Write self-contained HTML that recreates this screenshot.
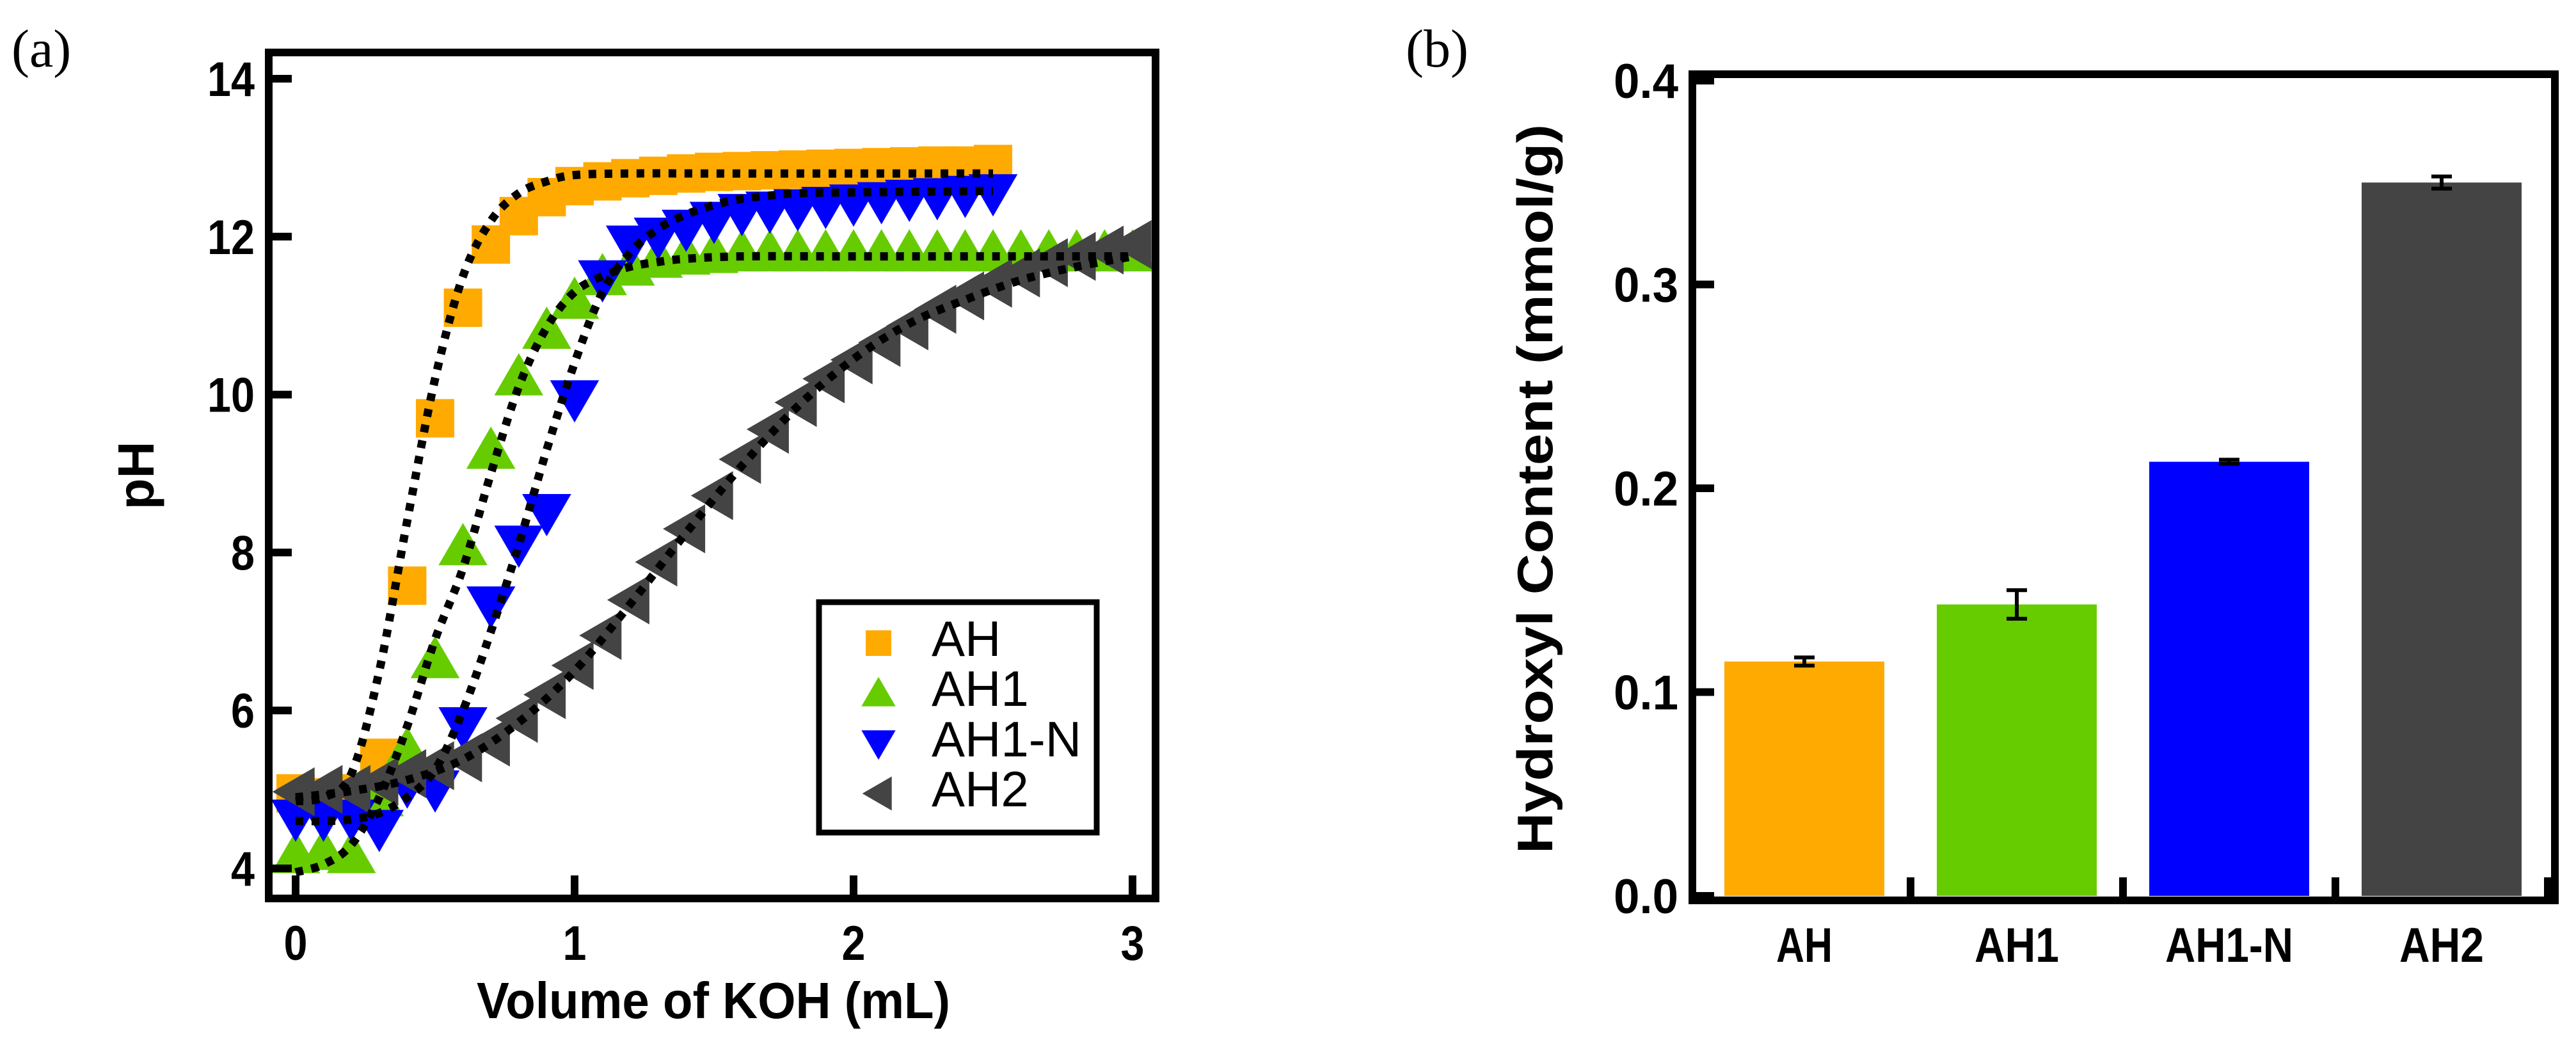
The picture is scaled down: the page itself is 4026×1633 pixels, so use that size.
<!DOCTYPE html>
<html><head><meta charset="utf-8"><style>
html,body{margin:0;padding:0;background:#fff;}
svg{display:block;}
text{font-family:"Liberation Sans",Arial,sans-serif;}
</style></head><body>
<svg id="fig" width="4026" height="1633" viewBox="0 0 4026 1633" xmlns="http://www.w3.org/2000/svg">
<g id="pa"></g>
<g id="pb"></g>
</svg>
<script>
// ---------- Panel (a) data ----------
const ahX = [0,0.1,0.2,0.3,0.4,0.5,0.6,0.7,0.8,0.9,1.0,1.1,1.2,1.3,1.4,1.5,1.6,1.7,1.8,1.9,2.0,2.1,2.2,2.3,2.4,2.5];
const ahY = [4.95,4.9,4.95,5.4,7.58,9.7,11.1,11.9,12.26,12.5,12.64,12.7,12.74,12.77,12.8,12.82,12.83,12.84,12.85,12.86,12.87,12.88,12.89,12.9,12.9,12.92];
const ah1X = [0,0.1,0.2,0.3,0.4,0.5,0.6,0.7,0.8,0.9,1.0,1.1,1.2,1.3,1.4,1.5,1.6,1.7,1.8,1.9,2.0,2.1,2.2,2.3,2.4,2.5,2.6,2.7,2.8,2.9,3.0];
const ah1Y = [4.18,4.22,4.18,4.9,5.5,6.65,8.08,9.3,10.23,10.82,11.2,11.5,11.62,11.72,11.76,11.78,11.8,11.8,11.8,11.8,11.8,11.8,11.8,11.8,11.8,11.8,11.8,11.8,11.8,11.8,11.8];
const ah1nX = [0,0.1,0.2,0.3,0.4,0.5,0.6,0.7,0.8,0.9,1.0,1.1,1.2,1.3,1.4,1.5,1.6,1.7,1.8,1.9,2.0,2.1,2.2,2.3,2.4,2.5];
const ah1nY = [4.63,4.63,4.63,4.5,5.05,5.0,5.8,7.33,8.1,8.5,9.94,11.46,11.9,12.0,12.1,12.2,12.3,12.33,12.36,12.39,12.42,12.45,12.48,12.5,12.53,12.55];
const ah2X = [0,0.1,0.2,0.3,0.4,0.5,0.6,0.7,0.8,0.9,1.0,1.1,1.2,1.3,1.4,1.5,1.6,1.7,1.8,1.9,2.0,2.1,2.2,2.3,2.4,2.5,2.6,2.7,2.8,2.9,3.0];
const ah2Y = [4.97,5.0,5.0,5.1,5.2,5.3,5.4,5.6,5.9,6.2,6.57,6.95,7.4,7.88,8.3,8.72,9.18,9.56,9.9,10.2,10.44,10.66,10.87,11.08,11.25,11.41,11.54,11.67,11.75,11.83,11.9];
// fitted curves
const fitAhX = [0,0.1,0.2,0.3,0.4,0.5,0.6,0.7,0.8,0.9,1.0,1.2,1.5,2.0,2.5];
const fitAhY = [4.85,4.9,5.2,6.5,8.4,10.2,11.5,12.2,12.55,12.7,12.78,12.8,12.8,12.8,12.8];
const fitAh1X = [0,0.1,0.2,0.3,0.4,0.5,0.6,0.7,0.8,0.9,1.0,1.1,1.2,1.3,1.4,1.6,2.0,2.5,3.0];
const fitAh1Y = [3.95,4.05,4.3,4.9,5.8,6.9,7.8,9.0,10.1,10.85,11.3,11.5,11.62,11.68,11.72,11.75,11.75,11.75,11.75];
const fitAh1nX = [0,0.1,0.2,0.3,0.4,0.5,0.6,0.7,0.8,0.9,1.0,1.1,1.2,1.3,1.4,1.5,1.6,1.7,1.8,2.0,2.5];
const fitAh1nY = [4.6,4.6,4.62,4.7,4.9,5.25,6.0,7.0,8.1,9.3,10.4,11.3,11.8,12.1,12.28,12.4,12.48,12.52,12.55,12.56,12.58];
const fitAh2X = [0,0.2,0.4,0.6,0.8,1.0,1.2,1.4,1.6,1.8,2.0,2.2,2.4,2.6,2.8,3.0];
const fitAh2Y = [4.9,4.98,5.12,5.38,5.85,6.5,7.35,8.25,9.1,9.85,10.45,10.9,11.2,11.45,11.62,11.75];
const xTicksA = [0,1,2,3];
const yTicksA = [4,6,8,10,12,14];
// ---------- Panel (b) data ----------
const cats = ["AH","AH1","AH1-N","AH2"];
const vals = [0.115,0.143,0.213,0.350];
const errs = [0.002,0.007,0.001,0.003];
const yTicksB = ["0.0","0.1","0.2","0.3","0.4"];
const barColors = ["#FFAA00","#66CC00","#0000FF","#444444"];

const NS="http://www.w3.org/2000/svg";
function mk(parent, tag, attrs, txt){const e=document.createElementNS(NS,tag);for(const k in attrs)e.setAttribute(k,attrs[k]);if(txt!==undefined)e.textContent=txt;parent.appendChild(e);return e;}

// ---------- Panel (a) ----------
const pa=document.getElementById('pa');
const xA=v=>462+v*436;
const yA=p=>123+(14-p)*123.4;
const L=420,R=1806,T=82,B=1404;

let t=mk(pa,'text',{x:18,y:104,'font-size':84,style:'font-family:"Liberation Serif",serif'},'(a)');



function fitPath(xs,ys){let d='';const n=xs.length;const P=xs.map((x,i)=>[xA(x),yA(ys[i])]);
 d='M'+P[0][0]+','+P[0][1];
 for(let i=0;i<n-1;i++){const p0=P[Math.max(0,i-1)],p1=P[i],p2=P[i+1],p3=P[Math.min(n-1,i+2)];
  const c1=[p1[0]+(p2[0]-p0[0])/6,p1[1]+(p2[1]-p0[1])/6],c2=[p2[0]-(p3[0]-p1[0])/6,p2[1]-(p3[1]-p1[1])/6];
  d+=' C'+c1[0]+','+c1[1]+' '+c2[0]+','+c2[1]+' '+p2[0]+','+p2[1];}
 return d;}

function marker(g,type,cx,cy,color,s){
 let e;
 if(type==='sq') e=mk(g,'rect',{x:cx-s/2,y:cy-s/2,width:s,height:s,fill:color});
 else if(type==='up') e=mk(g,'polygon',{points:`${cx},${cy-s*0.55} ${cx-s*0.58},${cy+s*0.45} ${cx+s*0.58},${cy+s*0.45}`,fill:color});
 else if(type==='down') e=mk(g,'polygon',{points:`${cx},${cy+s*0.55} ${cx-s*0.58},${cy-s*0.45} ${cx+s*0.58},${cy-s*0.45}`,fill:color});
 else e=mk(g,'polygon',{points:`${cx-s*0.55},${cy} ${cx+s*0.45},${cy-s*0.58} ${cx+s*0.45},${cy+s*0.58}`,fill:color});
 return e;}

const series=[
 {name:'ah',xs:ahX,ys:ahY,type:'sq',color:'#FFAA00',size:60},
 {name:'ah1',xs:ah1X,ys:ah1Y,type:'up',color:'#66CC00',size:66},
 {name:'ah1-n',xs:ah1nX,ys:ah1nY,type:'down',color:'#0000FF',size:66},
 {name:'ah2',xs:ah2X,ys:ah2Y,type:'left',color:'#444444',size:66}];
series.forEach(s=>{
 const g=mk(pa,'g',{});
 
 
 s.xs.forEach((x,i)=>{const m=marker(g,s.type,xA(x),yA(s.ys[i]),s.color,s.size);
  
  });
});
const fits=[[fitAhX,fitAhY,'ah'],[fitAh1X,fitAh1Y,'ah1'],[fitAh1nX,fitAh1nY,'ah1-n'],[fitAh2X,fitAh2Y,'ah2']];
fits.forEach(f=>{const p=mk(pa,'path',{d:fitPath(f[0],f[1]),fill:'none',stroke:'#000','stroke-width':13,'stroke-dasharray':'12 13'});
 
 });

let fr=mk(pa,'rect',{x:L,y:T,width:R-L,height:B-T,fill:'none',stroke:'#000','stroke-width':12});


yTicksA.forEach(v=>{const y=yA(v);
 const tk=mk(pa,'line',{x1:L,x2:L+36,y1:y,y2:y,stroke:'#000','stroke-width':12});
 
 
 const lb=mk(pa,'text',{x:398,y:y+27,'text-anchor':'end','font-size':76,'font-weight':'bold',textLength:String(v).length*37,lengthAdjust:'spacingAndGlyphs'},String(v));
 
 });
xTicksA.forEach(v=>{const x=xA(v);
 const tk=mk(pa,'line',{x1:x,x2:x,y1:B,y2:B-36,stroke:'#000','stroke-width':12});
 
 
 const lb=mk(pa,'text',{x:x,y:1500,'text-anchor':'middle','font-size':76,'font-weight':'bold',textLength:37,lengthAdjust:'spacingAndGlyphs'},String(v));
 
 });
t=mk(pa,'text',{x:1115,y:1591,'text-anchor':'middle','font-size':80,'font-weight':'bold',textLength:740,lengthAdjust:'spacingAndGlyphs'},'Volume of KOH (mL)');


t=mk(pa,'text',{x:0,y:0,'text-anchor':'middle','font-size':80,'font-weight':'bold',transform:'translate(240,743) rotate(-90)'},'pH');



// legend
const lg=mk(pa,'g',{});


mk(lg,'rect',{x:1280,y:941,width:434,height:360,fill:'#fff',stroke:'#000','stroke-width':9});
const lgY=[1005,1083,1162,1240];
series.forEach((s,i)=>{
 const m=marker(lg,s.type,1373,lgY[i],s.color,s.type==='sq'?40:46);
 
 
 const tx=mk(lg,'text',{x:1456,y:lgY[i]+20,'font-size':78},cats[i]);
 
 });

// ---------- Panel (b) ----------
const pb=document.getElementById('pb');
const BL=2645,BR=3993,BT=116,BB=1407;
const yB=v=>1400-v*3185;
const pitch=332, firstC=2820, bw=250;
t=mk(pb,'text',{x:2197,y:104,'font-size':84,style:'font-family:"Liberation Serif",serif'},'(b)');


cats.forEach((c,i)=>{const cx=firstC+i*pitch;
 const r=mk(pb,'rect',{x:cx-bw/2,y:yB(vals[i]),width:bw,height:yB(0)-yB(vals[i]),fill:barColors[i]});
 
 
 const e=mk(pb,'path',{d:`M${cx},${yB(vals[i]+errs[i])} V${yB(vals[i]-errs[i])} M${cx-16},${yB(vals[i]+errs[i])} H${cx+16} M${cx-16},${yB(vals[i]-errs[i])} H${cx+16}`,stroke:'#000','stroke-width':6,fill:'none'});
 
 
 const lb=mk(pb,'text',{x:cx,y:1503,'text-anchor':'middle','font-size':76,'font-weight':'bold',textLength:c.length*44+(c.includes('-')?-20:0),lengthAdjust:'spacingAndGlyphs'},c);
 
 
 const tk=mk(pb,'line',{x1:cx+pitch/2,x2:cx+pitch/2,y1:BB,y2:BB-36,stroke:'#000','stroke-width':12});
 
 });
fr=mk(pb,'rect',{x:BL,y:BT,width:BR-BL,height:BB-BT,fill:'none',stroke:'#000','stroke-width':12});


yTicksB.forEach(s=>{const y=yB(parseFloat(s));
 const tk=mk(pb,'line',{x1:BL,x2:BL+34,y1:y,y2:y,stroke:'#000','stroke-width':12});
 
 
 const lb=mk(pb,'text',{x:2623,y:y+27,'text-anchor':'end','font-size':76,'font-weight':'bold',textLength:101,lengthAdjust:'spacingAndGlyphs'},s);
 
 });
t=mk(pb,'text',{x:0,y:0,'text-anchor':'middle','font-size':78,'font-weight':'bold',transform:'translate(2426,764) rotate(-90)',textLength:1140,lengthAdjust:'spacingAndGlyphs'},'Hydroxyl Content (mmol/g)');


</script>
</body></html>
